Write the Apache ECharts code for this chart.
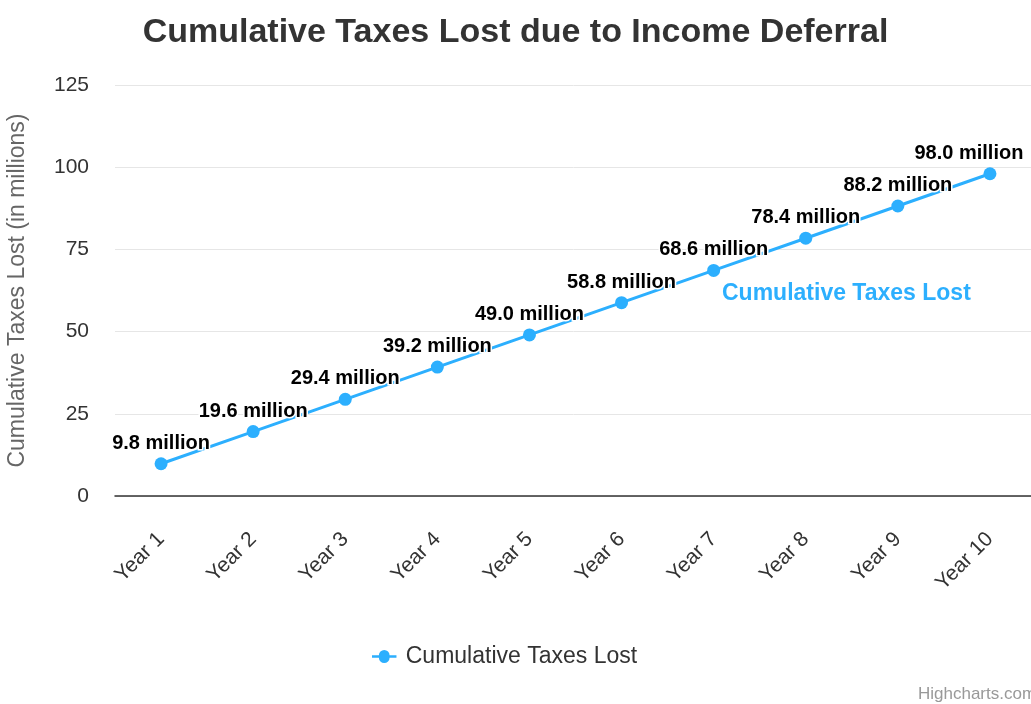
<!DOCTYPE html>
<html>
<head>
<meta charset="utf-8">
<style>
  html, body { margin: 0; padding: 0; background: #ffffff; }
  #chart { width: 1031px; height: 704px; }
</style>
<script src="https://cdn.jsdelivr.net/npm/echarts@6/dist/echarts.min.js"></script>
</head>
<body>
<div id="chart"></div>
<script>
// Years on the x axis
const years = ['Year 1', 'Year 2', 'Year 3', 'Year 4', 'Year 5', 'Year 6', 'Year 7', 'Year 8', 'Year 9', 'Year 10'];
// Cumulative taxes lost, in millions
const taxesLost = [9.8, 19.6, 29.4, 39.2, 49.0, 58.8, 68.6, 78.4, 88.2, 98.0];
const seriesName = 'Cumulative Taxes Lost';
const yTicks = { min: 0, max: 125, interval: 25 };

const FONT = '"Liberation Sans", Arial, Helvetica, sans-serif';
const BLUE = '#2caffe';

const chart = echarts.init(document.getElementById('chart'), null, { renderer: 'canvas' });

// The last label is nudged left so it stays inside the canvas
const seriesData = taxesLost.map((v, i) => {
  const item = { value: v };
  if (i === taxesLost.length - 1) item.label = { offset: [-21, 0] };
  return item;
});

chart.setOption({
  animation: false,
  backgroundColor: '#ffffff',
  title: {
    text: 'Cumulative Taxes Lost due to Income Deferral',
    left: 'center',
    top: 11,
    textStyle: { fontFamily: FONT, fontSize: 34, fontWeight: 'bold', color: '#333333' }
  },
  legend: {
    bottom: 31,
    left: 367,
    // line-and-dot symbol
    icon: 'path://M0,4.5 H9 A7,7 0 0 1 23,4.5 H32 V7.5 H23 A7,7 0 0 1 9,7.5 H0 Z',
    itemWidth: 29,
    itemHeight: 13,
    itemGap: 10,
    textStyle: { fontFamily: FONT, fontSize: 23, color: '#333333', padding: [0, 0, 0, 2] },
    data: [seriesName]
  },
  grid: { left: 115, right: -5, top: 85, bottom: 208, containLabel: false, outerBoundsMode: 'none' },
  xAxis: {
    type: 'category',
    data: years,
    boundaryGap: true,
    axisLine: { show: true, lineStyle: { color: '#333333', width: 1.5 } },
    axisTick: { show: false },
    axisLabel: {
      rotate: 45,
      margin: 40,
      fontFamily: FONT,
      fontSize: 21,
      color: '#333333'
    },
    splitLine: { show: false }
  },
  yAxis: {
    type: 'value',
    min: yTicks.min,
    max: yTicks.max,
    interval: yTicks.interval,
    name: 'Cumulative Taxes Lost (in millions)',
    nameLocation: 'middle',
    nameGap: 86,
    nameTextStyle: { fontFamily: FONT, fontSize: 23, color: '#666666' },
    axisLine: { show: false },
    axisTick: { show: false },
    axisLabel: { fontFamily: FONT, fontSize: 21, color: '#333333', margin: 26 },
    splitLine: { show: true, lineStyle: { color: '#e6e6e6', width: 1 } }
  },
  series: [{
    name: seriesName,
    type: 'line',
    data: seriesData,
    symbol: 'circle',
    symbolSize: 13,
    lineStyle: { color: BLUE, width: 3 },
    itemStyle: { color: BLUE },
    label: {
      show: true,
      position: 'top',
      distance: 4,
      formatter: p => p.value.toFixed(1) + ' million',
      fontFamily: FONT,
      fontSize: 20,
      fontWeight: 'bold',
      color: '#000000',
      textBorderColor: '#ffffff',
      textBorderWidth: 3
    },
    emphasis: { disabled: true }
  }],
  graphic: [
    {
      type: 'text',
      left: 722,
      top: 282,
      style: { text: seriesName, fontFamily: FONT, fontSize: 23, fontWeight: 'bold', fill: BLUE }
    },
    {
      type: 'text',
      left: 918,
      top: 686,
      style: { text: 'Highcharts.com', fontFamily: FONT, fontSize: 17, fill: '#999999' }
    }
  ]
});
</script>
</body>
</html>
